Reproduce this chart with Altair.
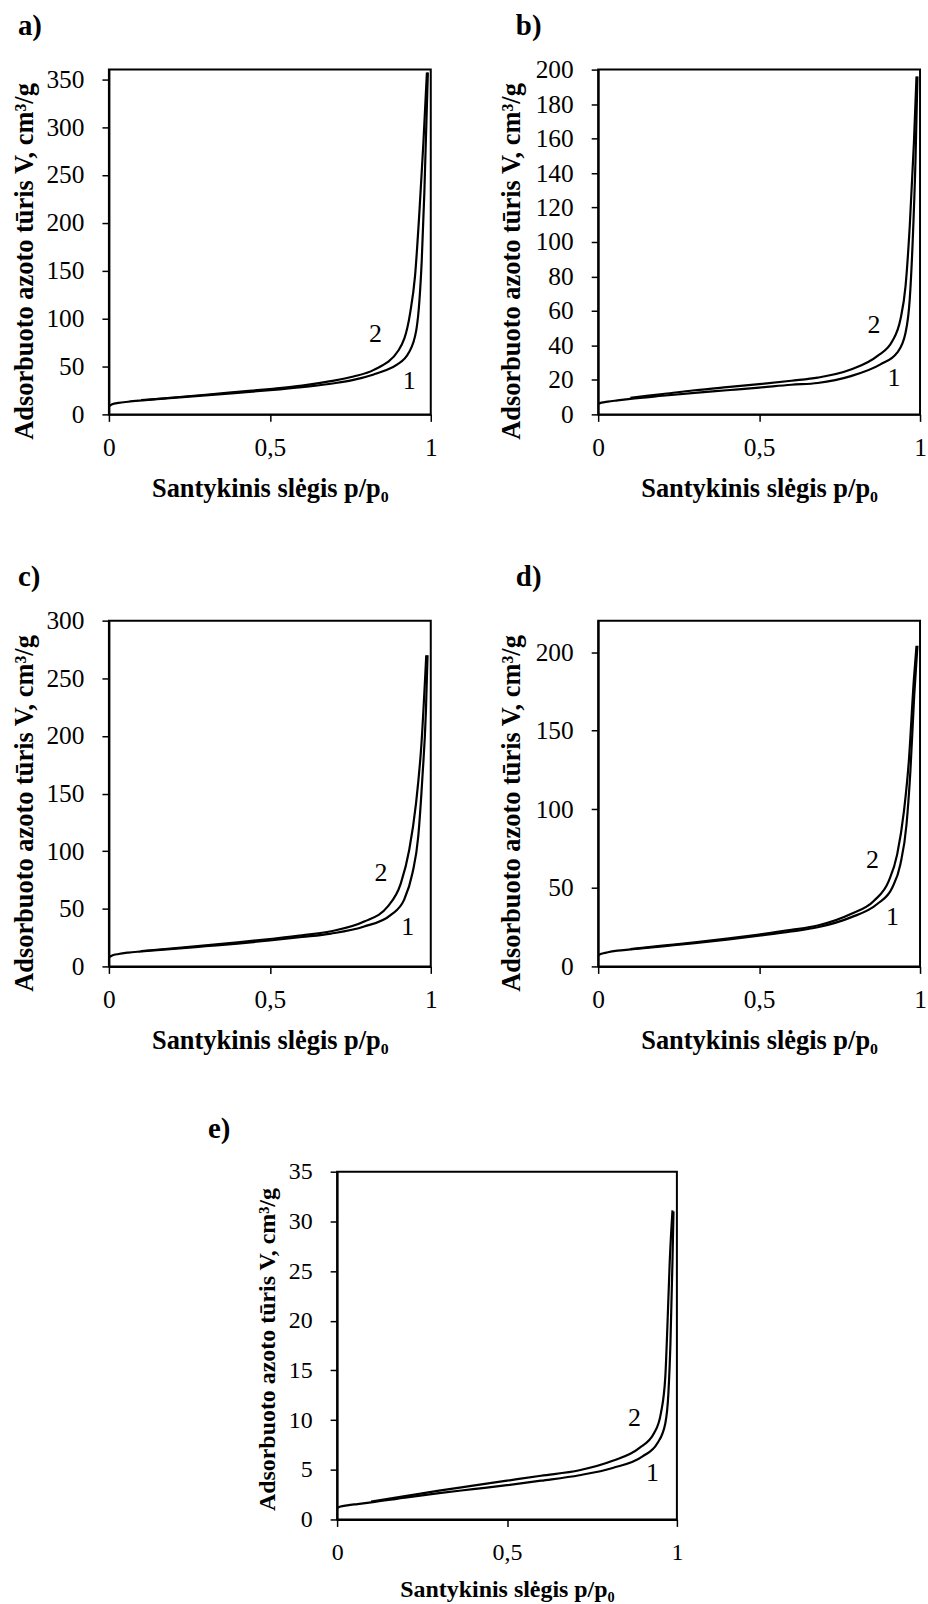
import altair as alt
import pandas as pd

FONT = "Liberation Serif"

# ---------------- data ----------------
# panel a
A1_X = [0.0, 0.01, 0.03, 0.06, 0.1, 0.2, 0.3, 0.4, 0.5, 0.6, 0.7, 0.76, 0.823, 0.86, 0.895, 0.931, 0.955, 0.965, 0.972, 0.98, 0.991]
A1_V = [8.5, 10.5, 12, 13.2, 14.5, 17.2, 19.8, 22.5, 25.3, 28.5, 32.5, 36, 41.7, 46, 52, 64, 88, 120, 161, 231, 357]
A2_X = [0.1, 0.2, 0.3, 0.4, 0.5, 0.6, 0.689, 0.76, 0.823, 0.9, 0.936, 0.951, 0.965, 0.977, 0.988]
A2_V = [14.8, 17.6, 20.5, 23.5, 26.5, 30, 34.7, 39.5, 46.5, 67, 106, 144, 213, 283, 357]
A_LX = [0.933, 0.828]
A_LV = [35, 84]

# panel b
B1_X = [0.0, 0.01, 0.03, 0.06, 0.1, 0.2, 0.3, 0.4, 0.5, 0.6, 0.682, 0.785, 0.877, 0.929, 0.955, 0.968, 0.977, 0.986, 0.992]
B1_V = [6.2, 6.8, 7.4, 8.1, 9, 10.8, 12.5, 14, 15.5, 17.2, 18.2, 22.2, 29, 35.8, 47.4, 66.7, 99.5, 148, 196]
B2_X = [0.1, 0.2, 0.3, 0.4, 0.5, 0.6, 0.682, 0.785, 0.867, 0.914, 0.939, 0.955, 0.968, 0.981, 0.989]
B2_V = [9.6, 11.8, 14, 15.8, 17.5, 19.5, 21.3, 26, 33.8, 42.5, 55, 74.4, 109, 157.5, 196]
B_LX = [0.919, 0.857]
B_LV = [21, 52]

# panel c
C1_X = [0.0, 0.01, 0.03, 0.06, 0.1, 0.2, 0.3, 0.4, 0.5, 0.6, 0.69, 0.793, 0.876, 0.917, 0.943, 0.961, 0.974, 0.985, 0.990]
C1_V = [8, 9.5, 10.8, 12, 13, 15.2, 17.5, 19.8, 22.5, 25.5, 28.5, 34.6, 44.7, 57.7, 80.8, 112.5, 164, 222, 270]
C2_X = [0.1, 0.2, 0.3, 0.4, 0.5, 0.6, 0.69, 0.793, 0.866, 0.907, 0.933, 0.954, 0.971, 0.986]
C2_V = [13.3, 15.7, 18.2, 20.8, 23.8, 27, 30.5, 38.9, 51.9, 72, 101, 141, 193, 270]
C_LX = [0.928, 0.845]
C_LV = [34.6, 81]

# panel d
D1_X = [0.0, 0.01, 0.03, 0.06, 0.1, 0.2, 0.3, 0.4, 0.5, 0.6, 0.682, 0.785, 0.867, 0.914, 0.939, 0.958, 0.970, 0.982, 0.992]
D1_V = [7, 8, 9, 10, 10.8, 12.8, 14.8, 17, 19.5, 22.2, 24.9, 31.2, 39.7, 50.2, 65, 90.3, 124, 172.6, 204]
D2_X = [0.1, 0.2, 0.3, 0.4, 0.5, 0.6, 0.682, 0.785, 0.857, 0.903, 0.929, 0.950, 0.965, 0.981, 0.989]
D2_V = [11, 13.2, 15.3, 17.7, 20.3, 23.2, 26, 33.3, 41.8, 54.4, 71.3, 98.7, 130, 183, 204]
D_LX = [0.914, 0.852]
D_LV = [31.5, 68]

# panel e
E1_X = [0.0, 0.01, 0.03, 0.06, 0.1, 0.2, 0.3, 0.4, 0.5, 0.6, 0.713, 0.811, 0.899, 0.943, 0.966, 0.975, 0.981, 0.987, 0.990]
E1_V = [1.15, 1.3, 1.42, 1.55, 1.72, 2.2, 2.65, 3.05, 3.45, 3.9, 4.45, 5.18, 6.34, 7.69, 9.69, 12.7, 17.7, 26, 31]
E2_X = [0.1, 0.2, 0.3, 0.4, 0.5, 0.6, 0.713, 0.811, 0.889, 0.933, 0.953, 0.966, 0.972, 0.979, 0.987]
E2_V = [1.8, 2.35, 2.9, 3.4, 3.9, 4.4, 4.95, 5.9, 7.18, 8.69, 10.7, 14.4, 19.4, 26, 31.1]
E_LX = [0.928, 0.875]
E_LV = [4.7, 10.2]

CURVE_LABELS = ["1", "2"]
X_TICKS = [0, 0.5, 1]
Y_TICKS = {
    "a": [0, 50, 100, 150, 200, 250, 300, 350],
    "b": [0, 20, 40, 60, 80, 100, 120, 140, 160, 180, 200],
    "c": [0, 50, 100, 150, 200, 250, 300],
    "d": [0, 50, 100, 150, 200],
    "e": [0, 5, 10, 15, 20, 25, 30, 35],
}
Y_MAX = {"a": 360, "b": 200, "c": 300, "d": 220, "e": 35}

X_TITLE = "Santykinis slėgis p/p₀"
Y_TITLE = "Adsorbuoto azoto tūris V, cm³/g"


def panel(letter, c1x, c1v, c2x, c2v, lx, lv, w, h, let_x, let_y,
          ytitle_x, ytitle_y, xtitle_y, fs_title, fs_lab):
    df = pd.DataFrame({
        "x": c1x + c2x,
        "v": c1v + c2v,
        "curve": ["1"] * len(c1x) + ["2"] * len(c2x),
    })
    ldf = pd.DataFrame({"x": lx, "v": lv, "t": CURVE_LABELS})
    xs = alt.Scale(domain=[0, 1], nice=False, zero=False)
    ys = alt.Scale(domain=[0, Y_MAX[letter]], nice=False)
    common = dict(
        labelFont=FONT, labelFontSize=fs_lab, labelColor="black",
        titleFont=FONT, titleFontSize=fs_title, titleFontWeight="bold", titleColor="black",
        tickSize=7, tickColor="black", tickWidth=1.5,
        domainColor="black", domainWidth=2, grid=False, labelOverlap=False,
    )
    xax = alt.Axis(values=X_TICKS, labelExpr="replace(format(datum.value, '~g'), '.', ',')",
                   title=X_TITLE, titleX=w / 2, titleY=xtitle_y, titleAlign="center",
                   titleBaseline="alphabetic", labelPadding=14, labelFlush=False, **common)
    yax = alt.Axis(values=Y_TICKS[letter], format="d", title=Y_TITLE, titleAngle=270,
                   titleX=ytitle_x, titleY=ytitle_y, titleAlign="center",
                   titleBaseline="alphabetic", labelPadding=18, **common)
    xe = alt.X("x:Q", scale=xs, axis=xax)
    ye = alt.Y("v:Q", scale=ys, axis=yax)
    lines = alt.Chart(df).mark_line(color="black", strokeWidth=2.2, interpolate="monotone",
                                    clip=True).encode(
        x=xe, y=ye, detail="curve:N")
    labels = alt.Chart(ldf).mark_text(font=FONT, fontSize=26, color="black",
                                      align="center", baseline="middle").encode(
        x=xe, y=ye, text="t:N")
    tag = alt.Chart(pd.DataFrame({"t": [letter + ")"]})).mark_text(
        font=FONT, fontSize=29, fontWeight="bold", color="black",
        align="left", baseline="alphabetic").encode(
        x=alt.value(let_x), y=alt.value(let_y), text="t:N")
    return alt.layer(lines, labels, tag).properties(width=w, height=h)


pa = panel("a", A1_X, A1_V, A2_X, A2_V, A_LX, A_LV, 323, 346, -91.3, -34.3, -77, 192, 82, 26.5, 25.5)
pb = panel("b", B1_X, B1_V, B2_X, B2_V, B_LX, B_LV, 323, 346, -82.6, -34.3, -78.5, 192, 82, 26.5, 25.5)
pc = panel("c", C1_X, C1_V, C2_X, C2_V, C_LX, C_LV, 323, 347, -91.3, -34.3, -77, 193, 82, 26.5, 25.5)
pd_ = panel("d", D1_X, D1_V, D2_X, D2_V, D_LX, D_LV, 323, 347, -82.6, -34.3, -78.5, 193, 82, 26.5, 25.5)
pe = panel("e", E1_X, E1_V, E2_X, E2_V, E_LX, E_LV, 341, 349, -129.6, -33.6, -63, 178, 77, 24, 24)

spacer = alt.Chart(pd.DataFrame({"s": [0]})).mark_point(opacity=0).encode(
    x=alt.X("s:Q", axis=None), y=alt.Y("s:Q", axis=None)
).properties(width=229, height=349, view=alt.ViewBackground(stroke="transparent"))

row1 = alt.hconcat(pa, pb, spacing=168, bounds="flush")
row2 = alt.hconcat(pc, pd_, spacing=168, bounds="flush")
row3 = alt.hconcat(spacer, pe, spacing=0, bounds="flush")

chart = alt.vconcat(row1, row2, row3, spacing=59).properties(
    padding={"left": 9.3, "top": 8, "right": 0, "bottom": 0},
    background="white",
).configure_view(stroke="black", strokeWidth=2)

chart.save("out.html", embed_options={"renderer": "svg", "actions": False})
